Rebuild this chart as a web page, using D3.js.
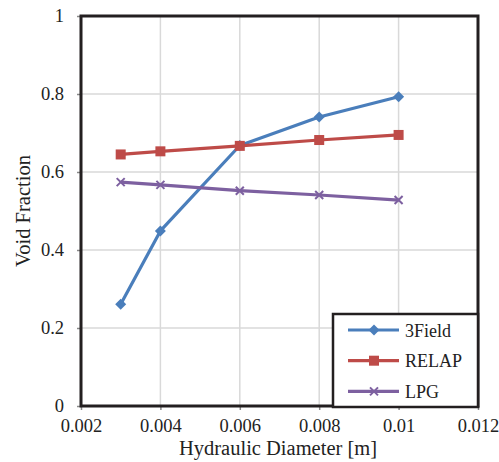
<!DOCTYPE html>
<html><head><meta charset="utf-8">
<script src="https://cdn.jsdelivr.net/npm/d3@7"></script>
<style>body{margin:0;background:#fff}svg{display:block}</style>
</head><body><svg id="c" width="499" height="462" font-family="Liberation Serif"></svg>
<script>
const xValues = [0.003, 0.004, 0.006, 0.008, 0.01];
const field3 = [0.261, 0.449, 0.668, 0.741, 0.793];
const relap = [0.645, 0.653, 0.667, 0.682, 0.695];
const lpg = [0.574, 0.567, 0.552, 0.541, 0.528];
const xTicks = [0.002, 0.004, 0.006, 0.008, 0.01, 0.012];
const yTicks = [0, 0.2, 0.4, 0.6, 0.8, 1];
const seriesNames = ["3Field", "RELAP", "LPG"];
const colors = ["#4a7ebb", "#be4b48", "#7d60a0"];

const FONT = "Liberation Serif";
const svg = d3.select("#c");
const L = 81, R = 478, T = 16, B = 406;
const x = d3.scaleLinear().domain([0.002, 0.012]).range([L, R]);
const y = d3.scaleLinear().domain([0, 1]).range([B, T]);

// grid
svg.append("g").selectAll("line").data(xTicks).join("line")
  .attr("x1", d => x(d)).attr("x2", d => x(d)).attr("y1", T).attr("y2", B)
  .attr("stroke", "#d9d9d9").attr("stroke-width", 1.5);
svg.append("g").selectAll("line").data(yTicks).join("line")
  .attr("x1", L).attr("x2", R).attr("y1", d => y(d)).attr("y2", d => y(d))
  .attr("stroke", "#d9d9d9").attr("stroke-width", 1.5);

// axes
const fmt = d => String(+d.toFixed(3));
const xAxis = svg.append("g").attr("transform", `translate(0,${B})`)
  .call(d3.axisBottom(x).tickValues(xTicks).tickFormat(fmt).tickSize(4).tickPadding(9));
const yAxis = svg.append("g").attr("transform", `translate(${L},0)`)
  .call(d3.axisLeft(y).tickValues(yTicks).tickFormat(fmt).tickSize(4).tickPadding(13));
[xAxis, yAxis].forEach(a => {
  a.attr("font-family", FONT).attr("font-size", 18.5);
  a.select(".domain").remove();
  a.selectAll(".tick line").attr("stroke", "#888").attr("stroke-width", 1.5);
  a.selectAll("text").attr("fill", "#222");
});

// frame
svg.append("rect").attr("x", L).attr("y", T).attr("width", R - L).attr("height", B - T)
  .attr("fill", "none").attr("stroke", "#231f20").attr("stroke-width", 3);

// series
const all = [field3, relap, lpg];
all.forEach((vals, i) => {
  const pts = xValues.map((xv, j) => [xv, vals[j]]);
  svg.append("path").datum(pts)
    .attr("d", d3.line().x(d => x(d[0])).y(d => y(d[1])))
    .attr("fill", "none").attr("stroke", colors[i]).attr("stroke-width", 3.2)
    .attr("stroke-linejoin", "round");
  const g = svg.append("g");
  pts.forEach(p => drawMarker(g, i, x(p[0]), y(p[1])));
});

function drawMarker(g, i, cx, cy) {
  if (i === 0) {
    g.append("path").attr("d", `M${cx},${cy-5.5}L${cx+5.5},${cy}L${cx},${cy+5.5}L${cx-5.5},${cy}Z`).attr("fill", colors[0]);
  } else if (i === 1) {
    g.append("rect").attr("x", cx - 5).attr("y", cy - 5).attr("width", 10).attr("height", 10).attr("fill", colors[1]);
  } else {
    g.append("path").attr("d", `M${cx-4},${cy-4}L${cx+4},${cy+4}M${cx-4},${cy+4}L${cx+4},${cy-4}`)
      .attr("stroke", colors[2]).attr("stroke-width", 2);
  }
}

// legend
const lg = svg.append("g");
lg.append("rect").attr("x", 333).attr("y", 314).attr("width", R - 333).attr("height", B - 314 + 1)
  .attr("fill", "#fff").attr("stroke", "#231f20").attr("stroke-width", 2.5);
seriesNames.forEach((n, i) => {
  const ly = 330 + i * 30.7;
  lg.append("line").attr("x1", 348).attr("x2", 399).attr("y1", ly).attr("y2", ly)
    .attr("stroke", colors[i]).attr("stroke-width", 3.2);
  drawMarker(lg, i, 374, ly);
  lg.append("text").attr("x", 405).attr("y", ly + 6.5).attr("font-family", FONT)
    .attr("font-size", 18).attr("fill", "#222").text(n);
});

// titles
svg.append("text").attr("x", 278).attr("y", 455).attr("text-anchor", "middle")
  .attr("font-family", FONT).attr("font-size", 20.5).attr("fill", "#222").text("Hydraulic Diameter [m]");
svg.append("text").attr("transform", `translate(30,${(T + B) / 2}) rotate(-90)`)
  .attr("text-anchor", "middle").attr("font-family", FONT).attr("font-size", 20.5).attr("fill", "#222")
  .text("Void Fraction");
</script></body></html>
